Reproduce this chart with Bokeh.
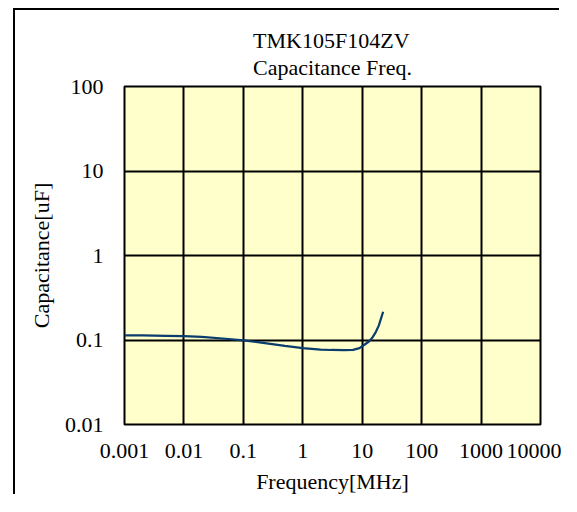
from bokeh.plotting import figure
from bokeh.models import FixedTicker, CustomJSTickFormatter, Title
from bokeh.embed import file_html
from bokeh.resources import INLINE

# ---- data ----
freq_mhz = [0.001, 0.002, 0.005, 0.01, 0.02, 0.05, 0.1, 0.2, 0.5, 1, 2, 3, 5, 7, 9, 11, 13, 15, 17, 19, 21, 22.5]
cap_uf = [0.1136, 0.1132, 0.112, 0.111, 0.109, 0.1035, 0.099, 0.093, 0.085, 0.080, 0.077, 0.0762, 0.0757, 0.0765,
          0.080, 0.0885, 0.096, 0.108, 0.125, 0.148, 0.185, 0.216]

x_ticks = [0.001, 0.01, 0.1, 1, 10, 100, 1000, 10000]
x_labels = ["0.001", "0.01", "0.1", "1", "10", "100", "1000", "10000"]
y_ticks = [0.01, 0.1, 1, 10, 100]
y_labels = ["0.01", "0.1", "1", "10", "100"]

title_lines = ["TMK105F104ZV", "Capacitance Freq."]
x_title = "Frequency[MHz]"
y_title = "Capacitance[uF]"

FONT = "Liberation Serif"

p = figure(width=546, height=486, x_axis_type="log", y_axis_type="log",
           x_range=(x_ticks[0], x_ticks[-1]), y_range=(y_ticks[0], y_ticks[-1]),
           output_backend="svg", toolbar_location=None,
           min_border_left=109, min_border_right=21, min_border_top=76, min_border_bottom=71)
p.title.visible = False
# outer chart-area border: only its left and top edges fall inside the window
p.margin = (10, 0, 0, 15)
p.styles = {"box-shadow": "-2px -2px 0px 0px #000000"}

p.background_fill_color = "#FFFFCC"
p.border_fill_color = "white"
p.outline_line_color = "black"
p.outline_line_width = 2

title = Title(text="\n".join(title_lines), align="center", text_font=FONT, text_font_size="22px",
              text_font_style="normal", text_color="black", text_line_height=1.05, standoff=14)
p.add_layout(title, "above")

fmt_code = """
const i = vals.findIndex(v => Math.abs(Math.log10(v) - Math.log10(tick)) < 1e-6);
return i >= 0 ? labs[i] : '';
"""
p.xaxis.ticker = FixedTicker(ticks=x_ticks, minor_ticks=[])
p.yaxis.ticker = FixedTicker(ticks=y_ticks, minor_ticks=[])
p.xaxis.formatter = CustomJSTickFormatter(args=dict(vals=x_ticks, labs=x_labels), code=fmt_code)
p.yaxis.formatter = CustomJSTickFormatter(args=dict(vals=y_ticks, labs=y_labels), code=fmt_code)

for ax in (p.xaxis, p.yaxis):
    ax.axis_line_color = None
    ax.major_tick_line_color = None
    ax.minor_tick_line_color = None
    ax.major_tick_out = 0
    ax.major_tick_in = 0
    ax.major_label_text_font = FONT
    ax.major_label_text_font_size = "22px"
    ax.major_label_text_color = "black"
    ax.axis_label_text_font = FONT
    ax.axis_label_text_font_size = "22px"
    ax.axis_label_text_font_style = "normal"
    ax.axis_label_text_color = "black"

p.xaxis.axis_label = x_title
p.yaxis.axis_label = y_title
p.xaxis.major_label_standoff = 19
p.yaxis.major_label_standoff = 21
p.xaxis.axis_label_standoff = 8
p.yaxis.axis_label_standoff = 8

p.xgrid.grid_line_color = "black"
p.ygrid.grid_line_color = "black"
p.xgrid.grid_line_width = 2
p.ygrid.grid_line_width = 2
p.xgrid.minor_grid_line_color = None
p.ygrid.minor_grid_line_color = None

p.line(freq_mhz, cap_uf, line_color="#0A3C6E", line_width=2.2)

open("out.html", "w").write(file_html(p, INLINE))
